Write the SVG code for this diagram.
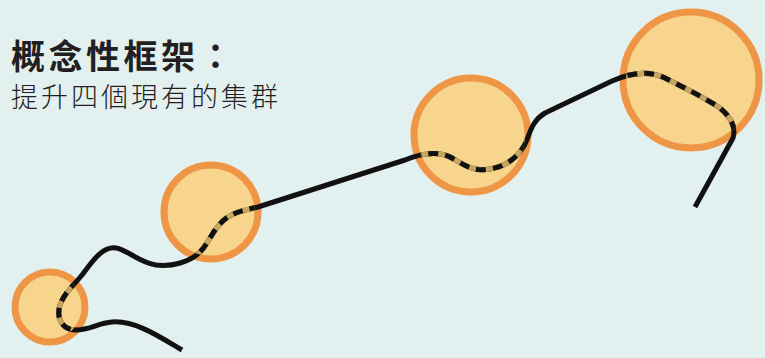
<svg xmlns="http://www.w3.org/2000/svg" width="765" height="358" viewBox="0 0 765 358">
<defs>
<style>
.bg{fill:#e2f0ef}
.c{fill:#f8d58c;stroke:#ee9646;stroke-width:7}
.line{fill:none;stroke:#111;stroke-width:5;stroke-linecap:butt;stroke-linejoin:round}
.tan{fill:none;stroke:#c8a660;stroke-width:5}
.dash{fill:none;stroke:#111;stroke-width:5;stroke-dasharray:10 7}
.t1{font-family:"Noto Sans CJK TC","Noto Sans CJK SC",sans-serif;font-weight:700;font-size:34px;letter-spacing:3.5px;fill:#231f20}
.t2{font-family:"Noto Sans CJK TC","Noto Sans CJK SC",sans-serif;font-weight:300;font-size:27px;letter-spacing:3px;fill:#231f20}
</style>
<path id="route" d="M182,350 C160,337 135,320 112,322 C98,323 90,330 76,330 C62,330 56,318 60,305 C64,293 74,285 82,275 C92,262 102,246 116,248 C128,250 138,262 156,265 C172,267 190,262 200,252 C208,244 212,232 220,224 C228,214 240,211 258,207 L405,160 C420,154 438,150 452,158 C466,166 474,172 490,169 C508,166 518,156 524,146 C530,136 530,122 545,113 L612,81 C630,73 648,70 665,78 C685,88 705,98 720,108 C732,118 736,128 733,138 L695,207"/>
<clipPath id="k1"><circle cx="50" cy="307" r="32"/></clipPath>
<clipPath id="k2"><circle cx="211" cy="212" r="44"/></clipPath>
<clipPath id="k3"><circle cx="471" cy="135" r="54"/></clipPath>
<clipPath id="k4"><circle cx="691" cy="80" r="65"/></clipPath>
</defs>
<rect class="bg" x="0" y="0" width="765" height="358"/>
<g id="title">
<text class="t1" x="11" y="69">概念性框架：</text>
<text class="t2" x="11" y="107">提升四個現有的集群</text>
</g>
<g id="cluster1"><circle class="c" cx="50" cy="307" r="35"/></g>
<g id="cluster2"><circle class="c" cx="211" cy="212" r="47"/></g>
<g id="cluster3"><circle class="c" cx="471" cy="135" r="57"/></g>
<g id="cluster4"><circle class="c" cx="691" cy="80" r="68"/></g>
<g id="connectors">
<use href="#route" class="line"/>
<g clip-path="url(#k1)"><use href="#route" class="tan"/><use href="#route" class="dash"/></g>
<g clip-path="url(#k2)"><use href="#route" class="tan"/><use href="#route" class="dash"/></g>
<g clip-path="url(#k3)"><use href="#route" class="tan"/><use href="#route" class="dash"/></g>
<g clip-path="url(#k4)"><use href="#route" class="tan"/><use href="#route" class="dash"/></g>
</g>
</svg>
